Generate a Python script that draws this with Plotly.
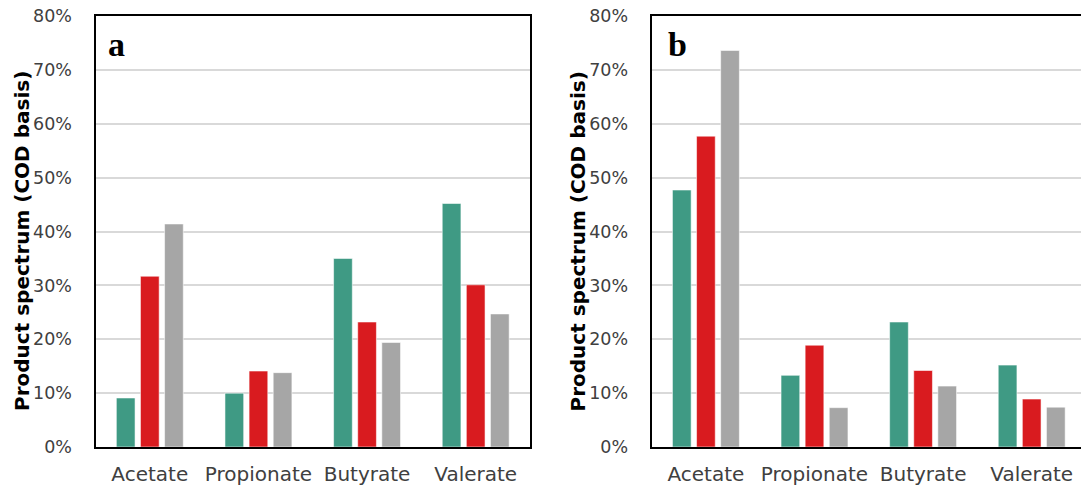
import plotly.graph_objects as go

# Volatile fatty acid product spectrum, two panels (a, b)
categories = ["Acetate", "Propionate", "Butyrate", "Valerate"]

panel_a_series1 = [9.1, 10.0, 35.0, 45.2]
panel_a_series2 = [31.7, 14.1, 23.2, 30.1]
panel_a_series3 = [41.4, 13.8, 19.4, 24.7]

panel_b_series1 = [47.7, 13.3, 23.2, 15.2]
panel_b_series2 = [57.7, 18.9, 14.2, 8.9]
panel_b_series3 = [73.6, 7.3, 11.3, 7.4]

series_names = ["Series 1", "Series 2", "Series 3"]
colors = ["#3F9A84", "#D91B1F", "#A6A6A6"]

y_ticks = [0, 10, 20, 30, 40, 50, 60, 70, 80]

W, H = 1081, 486
M_T, M_B = 16, 39
PLOT_H = H - M_T - M_B


def px_x(x):
    return x / W


def px_y(y):
    return (H - M_B - y) / PLOT_H


fig = go.Figure()

panels = [
    ("x", "y", [panel_a_series1, panel_a_series2, panel_a_series3]),
    ("x2", "y2", [panel_b_series1, panel_b_series2, panel_b_series3]),
]
for xa, ya, series in panels:
    for name, vals, col in zip(series_names, series, colors):
        fig.add_trace(go.Bar(
            x=categories, y=vals, name=name, xaxis=xa, yaxis=ya,
            marker=dict(color=col, line=dict(color="rgba(255,255,255,0.55)", width=1)),
            showlegend=False,
        ))

axis_font_x = dict(family="DejaVu Sans", size=20, color="#404040")
axis_font_y = dict(family="DejaVu Sans", size=17.5, color="#404040")

common_x = dict(
    type="category", showline=True, linecolor="black", linewidth=2,
    mirror=True, showgrid=False, ticks="", tickfont=axis_font_x,
    ticklabelstandoff=8, fixedrange=True,
)
common_y = dict(
    range=[0, 80], tickmode="array", tickvals=y_ticks,
    ticktext=[f"{v}%" for v in y_ticks], showgrid=True,
    gridcolor="#D9D9D9", gridwidth=1.5, zeroline=False,
    showline=True, linecolor="black", linewidth=2, ticks="",
    tickfont=axis_font_y, ticklabelstandoff=18, fixedrange=True,
)

fig.update_layout(
    width=W, height=H,
    margin=dict(l=0, r=0, t=M_T, b=M_B),
    paper_bgcolor="white", plot_bgcolor="white",
    barmode="group", bargap=0.334, bargroupgap=0.224,
    xaxis=dict(domain=[px_x(95.5), px_x(530)], range=[-0.5, 3.5], anchor="y", **common_x),
    xaxis2=dict(domain=[px_x(651.6), 1.0], range=[-0.5, 3.454], anchor="y2", **common_x),
    yaxis=dict(anchor="x", mirror=True, **common_y),
    yaxis2=dict(anchor="x2", mirror=False, **common_y),
)

title_font = dict(family="DejaVu Sans", size=20, color="black", weight="bold")
for xc in (21.5, 577):
    fig.add_annotation(
        text="Product spectrum (COD basis)", textangle=-90,
        xref="paper", yref="paper", x=px_x(xc), y=px_y(241.5),
        xanchor="center", yanchor="middle", showarrow=False, font=title_font,
    )

label_font = dict(family="Liberation Serif", size=34, color="black", weight="bold")
for txt, xl in (("a", 106), ("b", 666)):
    fig.add_annotation(
        text=txt, xref="paper", yref="paper", x=px_x(xl), y=px_y(44),
        xanchor="left", yanchor="middle", showarrow=False, font=label_font,
    )

fig.write_html("out.html")
